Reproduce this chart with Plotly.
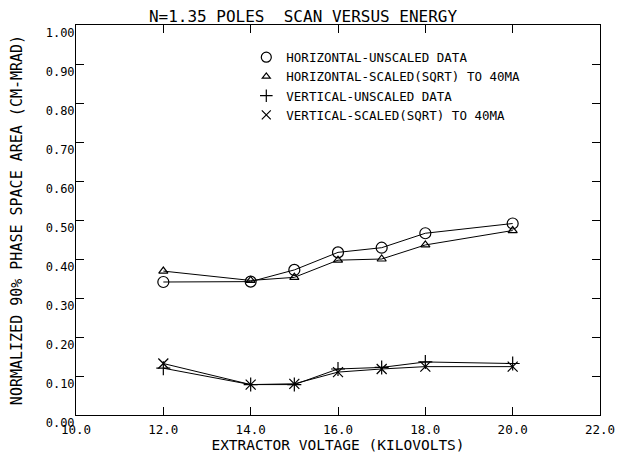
import plotly.graph_objects as go

voltage = [12.0, 14.0, 15.0, 16.0, 17.0, 18.0, 20.0]
horiz_unscaled = [0.341, 0.342, 0.372, 0.417, 0.429, 0.466, 0.491]
horiz_scaled = [0.369, 0.345, 0.353, 0.397, 0.400, 0.436, 0.473]
vert_unscaled = [0.120, 0.078, 0.078, 0.118, 0.122, 0.136, 0.132]
vert_scaled = [0.132, 0.078, 0.080, 0.110, 0.118, 0.124, 0.124]

names = [
    "HORIZONTAL-UNSCALED DATA",
    "HORIZONTAL-SCALED(SQRT) TO 40MA",
    "VERTICAL-UNSCALED DATA",
    "VERTICAL-SCALED(SQRT) TO 40MA",
]
x_ticks = [10, 12, 14, 16, 18, 20, 22]
y_ticks = [0.0, 0.1, 0.2, 0.3, 0.4, 0.5, 0.6, 0.7, 0.8, 0.9, 1.0]

FONT = "DejaVu Sans Mono"
series = [horiz_unscaled, horiz_scaled, vert_unscaled, vert_scaled]
symbols = ["circle-open", "triangle-up-open", "cross-thin-open", "x-thin-open"]
sizes = [11, 8, 10, 10]

# The page body has a default 8px margin, so the figure is sized to fit the window.
W, H = 624, 449

fig = go.Figure()
for name, vals, sym, sz in zip(names, series, symbols, sizes):
    fig.add_trace(go.Scatter(
        x=voltage, y=vals, name=name, mode="lines+markers", showlegend=False,
        line=dict(color="black", width=1),
        marker=dict(symbol=sym, size=sz, color="black", line=dict(color="black", width=1.2)),
    ))
# legend entries (symbol only, as in the original)
for name, sym, sz in zip(names, symbols, sizes):
    fig.add_trace(go.Scatter(
        x=[None], y=[None], name=name, mode="markers", showlegend=True,
        marker=dict(symbol=sym, size=sz - 1, color="black", line=dict(color="black", width=1.2)),
    ))

fig.update_layout(
    width=W, height=H,
    margin=dict(l=68, r=32, t=17, b=42, autoexpand=False),
    paper_bgcolor="white", plot_bgcolor="white",
    font=dict(family=FONT, color="black", size=12),
    title=dict(text="N=1.35 POLES  SCAN VERSUS ENERGY", x=295 / W, xanchor="center",
               y=1 - 8 / H, yanchor="middle", font=dict(family=FONT, size=16)),
    legend=dict(x=0.325, y=0.955, xanchor="left", yanchor="top",
                bgcolor="rgba(0,0,0,0)", font=dict(family=FONT, size=12.5),
                itemwidth=30, tracegroupgap=0),
    showlegend=True,
)
fig.update_xaxes(
    range=[10, 22], tickvals=x_ticks, ticktext=[f"{v:.1f}" for v in x_ticks],
    showline=True, linecolor="black", linewidth=1, mirror="ticks",
    ticks="inside", ticklen=8, tickcolor="black", showgrid=False, zeroline=False,
    automargin=False,
    title=dict(text="EXTRACTOR VOLTAGE (KILOVOLTS)", font=dict(family=FONT, size=14.5), standoff=2),
    tickfont=dict(family=FONT, size=12.5), ticklabelstandoff=3,
)
fig.update_yaxes(
    range=[0, 1.0], tickvals=y_ticks, ticktext=[f"{v:.2f}" for v in y_ticks],
    showline=True, linecolor="black", linewidth=1, mirror="ticks",
    ticks="inside", ticklen=8, tickcolor="black", showgrid=False, zeroline=False,
    automargin=False,
    title=dict(text="NORMALIZED 90% PHASE SPACE AREA (CM-MRAD)", font=dict(family=FONT, size=15), standoff=24),
    tickfont=dict(family=FONT, size=12), ticklabelshift=8, ticklabelstandoff=-2,
)

fig.write_html("out.html")
